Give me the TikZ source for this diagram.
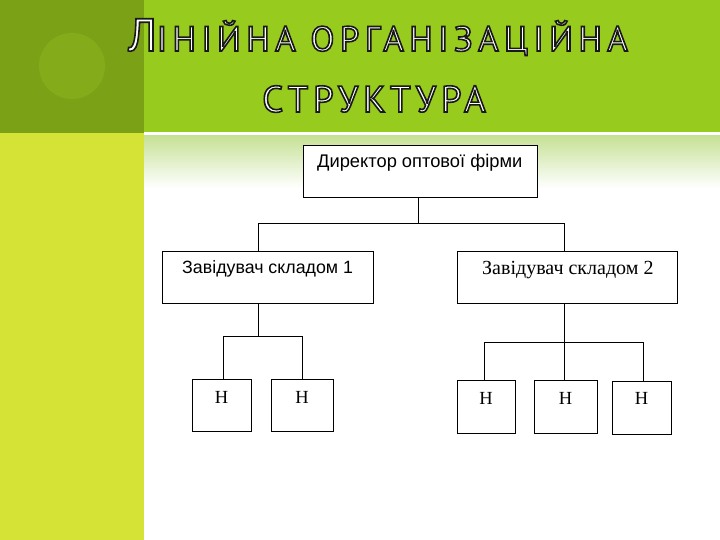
\documentclass[tikz,border=0pt]{standalone}
\usepackage{fontspec}
\setmainfont{Liberation Sans}
\newfontfamily\serifF{Liberation Serif}
\newfontfamily\titleA[LetterSpace=15.5]{PT Sans}
\newfontfamily\titleB[LetterSpace=13]{PT Sans}
\definecolor{darkg}{HTML}{7BA117}
\definecolor{circg}{HTML}{84AB1A}
\definecolor{brightg}{HTML}{97CB1D}
\definecolor{stripg}{HTML}{D5E337}
\definecolor{gradg}{HTML}{C6E196}
\newcommand\titleone{\titleA\fontsize{35}{35}\selectfont{\fontsize{46}{46}\selectfont Л}ІНІЙНА ОРГАНІЗАЦІЙНА}
\newcommand\titletwo{\titleB\fontsize{37}{37}\selectfont СТРУКТУРА}
\newcommand\outlined[1]{\special{pdf:literal direct 0.1 0.1 0.1 RG 1.6 w 2 Tr}#1\special{pdf:literal direct 0 Tr}}
\begin{document}
\begin{tikzpicture}[x=1pt,y=-1pt,
  box/.style={draw=black, line width=1pt, fill=white, inner sep=0pt, anchor=north west},
  conn/.style={line width=1pt},
  ttl/.style={anchor=base west, inner sep=0pt},
  lbl/.style={anchor=base west, inner sep=0pt},
  hlbl/.style={anchor=base, inner sep=0pt, font=\serifF\fontsize{18.5}{18.5}\selectfont}]
\useasboundingbox (0,0) rectangle (720,540);
% background
\fill[white] (0,0) rectangle (720,540);
\fill[brightg] (144,0) rectangle (720,132);
\fill[darkg] (0,0) rectangle (144,133);
\fill[circg] (72,66) circle (33);
\fill[stripg] (0,133) rectangle (144,540);
\shade[top color=gradg, bottom color=white] (144,136) rectangle (720,188);
% title
\node[ttl, text=white] (t1) at (128,51) {\outlined{\titleone}};
\node[ttl, text=white] (t2) at (262,112) {\outlined{\titletwo}};
% boxes
\node[box, minimum width=234, minimum height=52] (dir) at (303,145) {};
\node[box, minimum width=211, minimum height=52] (z1) at (162,251) {};
\node[box, minimum width=220, minimum height=52] (z2) at (457,251) {};
\node[box, minimum width=59, minimum height=52] (h1) at (192,379) {};
\node[box, minimum width=62, minimum height=52] (h2) at (271,379) {};
\node[box, minimum width=58, minimum height=53] (h3) at (457,380) {};
\node[box, minimum width=63, minimum height=53] (h4) at (534,380) {};
\node[box, minimum width=59, minimum height=53] (h5) at (612,381) {};
% labels
\node[lbl, font=\fontsize{18.3}{18.3}\selectfont] (dirt) at (317,168) {Директор оптової фірми};
\node[lbl, font=\fontsize{17.8}{17.8}\selectfont] (z1t) at (182,273) {Завідувач складом 1};
\node[lbl, font=\serifF\fontsize{20}{20}\selectfont] (z2t) at (482,274) {Завідувач складом 2};
\node[hlbl] (h1t) at (221.5,403) {Н};
\node[hlbl] (h2t) at (302,403) {Н};
\node[hlbl] (h3t) at (486,404) {Н};
\node[hlbl] (h4t) at (565.5,404) {Н};
\node[hlbl] (h5t) at (641.5,404) {Н};
% connectors
\coordinate (j0) at (418,224);
\coordinate (jl) at (258,224);
\coordinate (jr) at (564,224);
\draw[conn] (j0 |- dir.south) -- (j0);
\draw[conn] (jl |- z1.north) -- (jl) -- (jr) -- (jr |- z2.north);
\coordinate (k0) at (258,336);
\coordinate (kl) at (223,336);
\coordinate (kr) at (302,336);
\draw[conn] (k0 |- z1.south) -- (k0);
\draw[conn] (kl |- h1.north) -- (kl) -- (kr) -- (kr |- h2.north);
\coordinate (m0) at (564,342);
\coordinate (ml) at (484,342);
\coordinate (mr) at (643,342);
\draw[conn] (m0 |- z2.south) -- (m0 |- h4.north);
\draw[conn] (ml |- h3.north) -- (ml) -- (mr) -- (mr |- h5.north);
\end{tikzpicture}
\end{document}
